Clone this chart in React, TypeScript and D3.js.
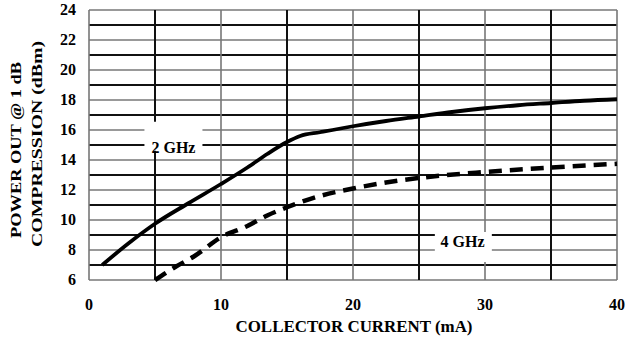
import React from "react";
import * as d3 from "d3";

// values
const current2 = [1, 3, 5, 7.5, 10, 12, 13.5, 15, 16, 17.5, 20, 22.5, 25, 27.5, 30, 32.5, 35, 37.5, 40];
const power2 = [7.0, 8.45, 9.75, 11.1, 12.4, 13.5, 14.4, 15.2, 15.6, 15.85, 16.25, 16.6, 16.9, 17.2, 17.45, 17.65, 17.8, 17.95, 18.05];
const current4 = [5, 6.5, 8, 10, 12, 13.5, 15, 17.5, 20, 22.5, 25, 30, 35, 40];
const power4 = [6.0, 6.85, 7.6, 8.85, 9.6, 10.3, 10.85, 11.6, 12.1, 12.5, 12.8, 13.2, 13.5, 13.75];
const xTicks = [0, 10, 20, 30, 40];
const yTicks = [6, 8, 10, 12, 14, 16, 18, 20, 22, 24];
const xGrid = [0, 5, 10, 15, 20, 25, 30, 35, 40];
const yGrid = d3.range(6, 25);

const FONT = "'Liberation Serif', 'Times New Roman', serif";

export default function App() {
    const width = 626
    const height = 345

    const xScale = d3.scaleLinear().domain([0, 40]).range([89, 617])
    const yScale = d3.scaleLinear().domain([6, 24]).range([280, 10])

    const line = d3.line<[number, number]>()
        .x(d => xScale(d[0]))
        .y(d => yScale(d[1]))
        .curve(d3.curveMonotoneX)

    const pts2 = current2.map((c, i) => [c, power2[i]] as [number, number])
    const pts4 = current4.map((c, i) => [c, power4[i]] as [number, number])

    // label boxes (white patches over the grid)
    const box2 = { x: xScale(4.2), y: yScale(16.55), w: 58, h: 29, text: "2 GHz", cx: xScale(6.4), base: yScale(14.5) }
    const box4 = { x: xScale(26.2), y: yScale(9.2), w: 57, h: 30, text: "4 GHz", cx: xScale(28.3), base: yScale(8.2) }

    const isMinor = (v: number) => v % 2 === 1
    const isMinorX = (v: number) => v % 10 === 5

    return (
        <svg width={width} height={height} style={{ position: "absolute", left: 0, top: 0, background: "#fff" }}>
            {yGrid.map((v) => (
                <line key={"h" + v} x1={xScale(0)} x2={xScale(40)} y1={yScale(v)} y2={yScale(v)}
                    stroke={isMinor(v) ? "#111" : "#777"} strokeWidth={isMinor(v) ? 2 : 1.6} />
            ))}
            {xGrid.map((v) => (
                <line key={"v" + v} x1={xScale(v)} x2={xScale(v)} y1={yScale(6)} y2={yScale(24)}
                    stroke={isMinorX(v) ? "#111" : "#777"} strokeWidth={isMinorX(v) ? 2 : 1.6} />
            ))}

            {[box2, box4].map((b) => (
                <g key={b.text}>
                    <rect x={b.x} y={b.y} width={b.w} height={b.h} fill="#fff" />
                    <text x={b.cx} y={b.base} textAnchor="middle" fontFamily={FONT} fontWeight="bold" fontSize={16} fill="#000">{b.text}</text>
                </g>
            ))}

            <path d={line(pts2) || ""} fill="none" stroke="#000" strokeWidth={3.8} strokeLinejoin="round" />
            <path d={line(pts4) || ""} fill="none" stroke="#000" strokeWidth={4.5} strokeDasharray="13 8" />

            {xTicks.map((t) => (
                <text key={"xt" + t} x={xScale(t)} y={310} textAnchor="middle" fontFamily={FONT} fontWeight="bold" fontSize={16} fill="#000">{t}</text>
            ))}
            {yTicks.map((t) => (
                <text key={"yt" + t} x={76} y={yScale(t) + 5} textAnchor="end" fontFamily={FONT} fontWeight="bold" fontSize={16} fill="#000">{t}</text>
            ))}

            <text x={354} y={332} textAnchor="middle" fontFamily={FONT} fontWeight="bold" fontSize={16} fill="#000"
                textLength={237} lengthAdjust="spacingAndGlyphs">COLLECTOR CURRENT (mA)</text>
            <text transform="translate(21,150) rotate(-90)" textAnchor="middle" fontFamily={FONT} fontWeight="bold" fontSize={15} fill="#000"
                textLength={176} lengthAdjust="spacingAndGlyphs">POWER OUT @ 1 dB</text>
            <text transform="translate(42,144) rotate(-90)" textAnchor="middle" fontFamily={FONT} fontWeight="bold" fontSize={15} fill="#000"
                textLength={206} lengthAdjust="spacingAndGlyphs">COMPRESSION (dBm)</text>
        </svg>
    )
}
